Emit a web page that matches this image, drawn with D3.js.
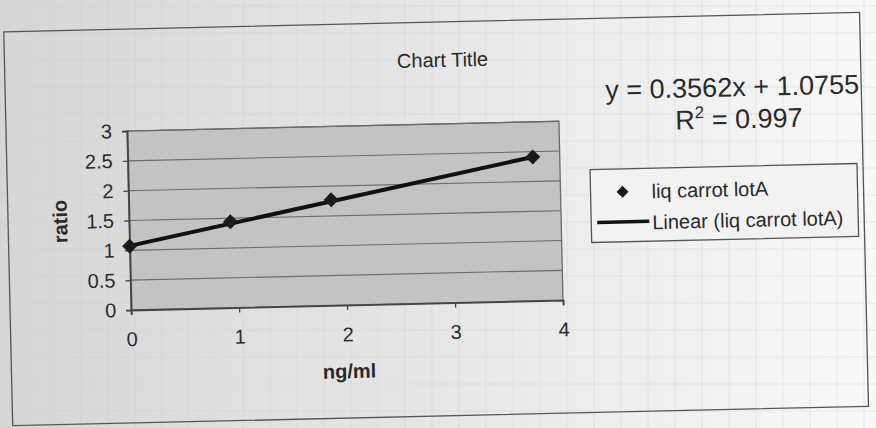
<!DOCTYPE html>
<html><head><meta charset="utf-8">
<script src="https://cdn.jsdelivr.net/npm/d3@7"></script>
<style>html,body{margin:0;padding:0;background:#e6e6e6;}svg{display:block;}</style>
</head><body>
<svg id="c" width="876" height="428"></svg>
<script>
// data
const xValues = [0, 0.9375, 1.875, 3.75];
const yValues = [1.07, 1.44, 1.77, 2.41];
const seriesName = "liq carrot lotA";
const trendSlope = 0.3562;
const trendIntercept = 1.0755;
const rSquared = 0.997;
const xTicks = [0, 1, 2, 3, 4];
const yTicks = [0, 0.5, 1, 1.5, 2, 2.5, 3];
const chartTitle = "Chart Title";
const xTitle = "ng/ml";
const yTitle = "ratio";

const svg = d3.select("#c");
const defs = svg.append("defs");
const bg = defs.append("linearGradient").attr("id","bg").attr("x1","0").attr("x2","1").attr("y1","0").attr("y2","0");
bg.append("stop").attr("offset","0").attr("stop-color","#d6d6d6");
bg.append("stop").attr("offset","0.55").attr("stop-color","#e8e8e8");
bg.append("stop").attr("offset","1").attr("stop-color","#f8f8f8");
svg.append("rect").attr("width",876).attr("height",428).attr("fill","url(#bg)");

// faint paper grid
const paper = svg.append("g").attr("stroke","#cfcfcf").attr("stroke-width",0.6).attr("opacity",0.55);
paper.selectAll("line.v").data(d3.range(0, 876, 27)).join("line").attr("x1",d=>d).attr("x2",d=>d).attr("y1",0).attr("y2",428);
paper.selectAll("line.h").data(d3.range(6, 428, 27)).join("line").attr("x1",0).attr("x2",876).attr("y1",d=>d).attr("y2",d=>d);

const root = svg.append("g").attr("transform","rotate(-1.3,438,214)");
const font = "'Liberation Sans', Arial, sans-serif";
const ink = "#2a2a2a";

// chart frame
root.append("rect").attr("x",8).attr("y",22).attr("width",856).attr("height",394)
  .attr("fill","none").attr("stroke","#555").attr("stroke-width",1.3);

const plot = {l:129, t:124, r:561, b:303};
const x = d3.scaleLinear().domain([0,4]).range([plot.l, plot.r]);
const y = d3.scaleLinear().domain([0,3]).range([plot.b, plot.t]);

root.append("rect").attr("x",plot.l).attr("y",plot.t).attr("width",plot.r-plot.l).attr("height",plot.b-plot.t)
  .attr("fill","#c3c3c3");

// gridlines
root.append("g").selectAll("line").data(yTicks.filter(d=>d>0)).join("line")
  .attr("x1",plot.l).attr("x2",plot.r).attr("y1",d=>y(d)).attr("y2",d=>y(d))
  .attr("stroke","#6a6a6a").attr("stroke-width",1.1);
root.append("rect").attr("x",plot.l).attr("y",plot.t).attr("width",plot.r-plot.l).attr("height",plot.b-plot.t)
  .attr("fill","none").attr("stroke","#6a6a6a").attr("stroke-width",1.3);

// axes
const xAxis = root.append("g").attr("transform",`translate(0,${plot.b})`)
  .call(d3.axisBottom(x).tickValues(xTicks).tickSize(5).tickPadding(17).tickFormat(d3.format("d")));
const yAxis = root.append("g").attr("transform",`translate(${plot.l},0)`)
  .call(d3.axisLeft(y).tickValues(yTicks).tickSize(5).tickPadding(10).tickFormat(d=>String(d)));
[xAxis,yAxis].forEach(a=>{
  a.select(".domain").attr("stroke","#444").attr("stroke-width",1.8);
  a.selectAll(".tick line").attr("stroke","#444").attr("stroke-width",1.3);
  a.selectAll("text").attr("font-family",font).attr("font-size",20).attr("fill",ink);
});

// trendline
root.append("line")
  .attr("x1",x(0)).attr("y1",y(trendIntercept))
  .attr("x2",x(d3.max(xValues))).attr("y2",y(trendIntercept+trendSlope*d3.max(xValues)))
  .attr("stroke","#111").attr("stroke-width",4).attr("stroke-linecap","round");

// markers (square diamond)
const diamondPath = s => `M0,${-s}L${s},0L0,${s}L${-s},0Z`;
root.append("g").selectAll("path").data(xValues.map((d,i)=>[d,yValues[i]])).join("path")
  .attr("d",diamondPath(7.5)).attr("transform",d=>`translate(${x(d[0])},${y(d[1])})`).attr("fill","#1a1a1a");

// titles
root.append("text").attr("x",446).attr("y",67).attr("text-anchor","middle")
  .attr("font-family",font).attr("font-size",20).attr("fill",ink).text(chartTitle);
root.append("text").attr("x",346).attr("y",376).attr("text-anchor","middle")
  .attr("font-family",font).attr("font-size",20).attr("font-weight","bold").attr("fill",ink).text(xTitle);
root.append("text").attr("transform","translate(67,213) rotate(-90)").attr("text-anchor","middle")
  .attr("font-family",font).attr("font-size",20).attr("font-weight","bold").attr("fill",ink).text(yTitle);

// equation
root.append("text").attr("x",735).attr("y",103).attr("text-anchor","middle")
  .attr("font-family",font).attr("font-size",27).attr("fill",ink)
  .text(`y = ${trendSlope}x + ${trendIntercept}`);
const r2 = root.append("text").attr("x",741).attr("y",135).attr("text-anchor","middle")
  .attr("font-family",font).attr("font-size",27).attr("fill",ink);
r2.append("tspan").text("R");
r2.append("tspan").attr("dy",-11).attr("font-size",17).text("2");
r2.append("tspan").attr("dy",11).text(` = ${rSquared}`);

// legend
const lg = root.append("g");
lg.append("rect").attr("x",591).attr("y",173).attr("width",267).attr("height",73)
  .attr("fill","#f2f2f2").attr("stroke","#555").attr("stroke-width",1.3);
lg.append("path").attr("d",diamondPath(6)).attr("transform","translate(623,196)").attr("fill","#1a1a1a");
lg.append("text").attr("x",652).attr("y",203).attr("font-family",font).attr("font-size",20).attr("fill",ink).text(seriesName);
lg.append("line").attr("x1",597).attr("x2",649).attr("y1",226).attr("y2",226).attr("stroke","#111").attr("stroke-width",3.5);
lg.append("text").attr("x",652).attr("y",234).attr("font-family",font).attr("font-size",20).attr("fill",ink).text(`Linear (${seriesName})`);
</script>
</body></html>
